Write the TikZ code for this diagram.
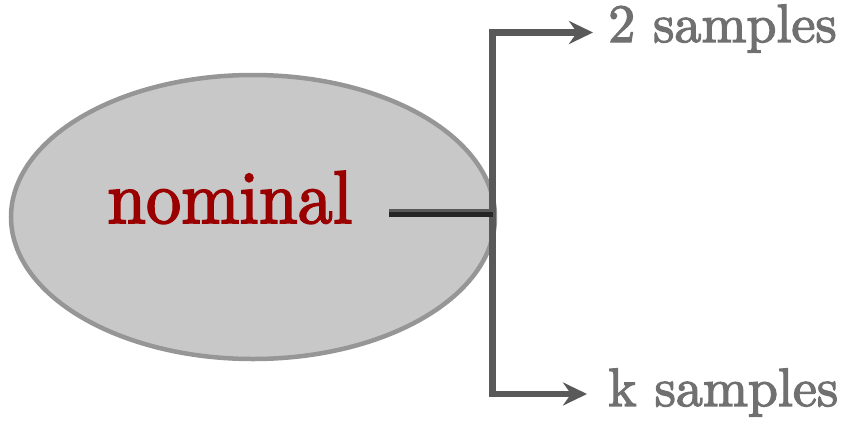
\documentclass[tikz,border=0pt]{standalone}
\usepackage{fontspec}
\usetikzlibrary{arrows.meta,shapes.geometric}
\newfontfamily\labelfont{lmroman10-regular.otf}[FakeBold=2.4]
\definecolor{ellfill}{HTML}{C8C8C8}
\definecolor{ellline}{HTML}{969696}
\definecolor{linkgray}{HTML}{595959}
\definecolor{labelgray}{HTML}{707070}
\definecolor{darkred}{HTML}{9A0000}
\tikzset{
  blob/.style={ellipse, draw=ellline, fill=ellfill, line width=4.5pt, inner sep=0pt},
  outlabel/.style={text=labelgray, font=\labelfont\fontsize{54}{60}\selectfont, inner sep=0pt, anchor=base west},
  link/.style={draw=linkgray, line width=6.5pt},
  linkarrow/.style={link, -{Stealth[length=24pt,width=23pt,inset=8pt]}}
}
\begin{document}
\begin{tikzpicture}[x=1pt,y=-1pt]
  \useasboundingbox (0,0) rectangle (844,421);
  % the category ellipse and its label
  \node[blob, minimum width=484pt, minimum height=284pt] (cat) at (253,217) {};
  \node[text=darkred, font=\labelfont\fontsize{70}{80}\selectfont, inner sep=0pt, anchor=base west] (nom) at (107,223) {\scalebox{1}[1.07]{nominal}};
  % outcome labels
  \node[outlabel] (two) at (608,42) {2 samples};
  \node[outlabel] (ks) at (608,406) {k samples};
  % branch points
  \coordinate (stem) at (389,213);
  \coordinate (fork) at (492.5,213);
  \coordinate (up) at (492.5,32.5);
  \coordinate (down) at (492.5,394);
  % connectors
  \draw[link, line cap=rect] (up) -- (down);
  \draw[draw=linkgray, line width=7.5pt] (stem) -- (fork);
  \draw[draw=black!85, line width=4.5pt] ([yshift=-1.5pt]stem) -- ([yshift=-1.5pt]fork);
  \draw[linkarrow] (up) -- ([xshift=-15pt]up -| two.west);
  \draw[linkarrow] (down) -- ([xshift=-21pt]down -| ks.west);
\end{tikzpicture}
\end{document}
